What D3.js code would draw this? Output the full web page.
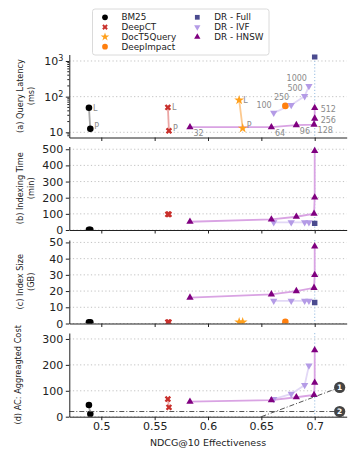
<!DOCTYPE html>
<html>
<head>
<meta charset="utf-8">
<script src="https://cdn.jsdelivr.net/npm/d3@7"></script>
<style>
  body { margin: 0; background: #fff; }
  svg { display: block; font-family: "DejaVu Sans", sans-serif; }
  .axis path, .axis line { stroke: #222; stroke-width: 1; }
  .axis text { font-size: 11px; fill: #222; font-family: "DejaVu Sans", sans-serif; }
  .grid line { stroke: #bbb; stroke-width: 0.9; stroke-dasharray: 1.2, 2.4; }
  .tag { font-size: 8px; fill: #8a8a8a; }
  .ylabel { font-size: 8.2px; fill: #222; }
  .legend text { font-size: 8.8px; fill: #222; }
</style>
</head>
<body>
<div id="chart"></div>
<script>
// Data
var ndcgTicks = [0.5, 0.55, 0.6, 0.65, 0.7];
var latencyTicks = [10, 100, 1000];
var timeTicks = [0, 100, 200, 300, 400, 500];
var sizeTicks = [0, 10, 20, 30, 40, 50];
var costTicks = [0, 100, 200, 300];

var lpTags = ["L", "P"];

var bm25Ndcg = [0.4884, 0.4897];
var bm25Latency = [49, 12.5];
var bm25Time = [2, 2];
var bm25Size = [0.7, 0.7];
var bm25Cost = [45, 10];

var deepctNdcg = [0.5624, 0.5634];
var deepctLatency = [50, 11];
var deepctTime = [97, 97];
var deepctSize = [0.8, 0.8];
var deepctCost = [68, 36];

var doct5Ndcg = [0.6292, 0.6325];
var doct5Latency = [80, 13];
var doct5Size = [0.8, 0.8];

var deepimpactNdcg = [0.6725];
var deepimpactLatency = [55];
var deepimpactSize = [1];

var fullNdcg = [0.7];
var fullLatency = [1320];
var fullTime = [41];
var fullSize = [13];

var ivfProbes = [100, 250, 500, 1000];
var ivfNdcg = [0.6616, 0.678, 0.6906, 0.6946];
var ivfLatency = [35, 58, 103, 198];
var ivfTime = [47, 47, 47, 47];
var ivfSize = [14, 14, 14, 14];
var ivfCost = [68, 88, 122, 197];

var hnswEf = [32, 64, 96, 128, 256, 512];
var hnswNdcg = [0.5831, 0.6594, 0.6828, 0.6994, 0.7, 0.7];
var hnswLatency = [14, 14, 16, 16.5, 24.3, 48];
var hnswTime = [51, 66, 82, 101, 202, 490];
var hnswSize = [16, 18, 20, 22, 30, 47.5];
var hnswCost = [58, 64, 75, 84, 131, 257];

// budget lines in panel (d)
var budgetLine1 = [[0.65, 0], [0.7234, 113]];
var budgetLine2 = 20;

var series = [
  { name: "BM25", x: bm25Ndcg, latency: bm25Latency, time: bm25Time, size: bm25Size, cost: bm25Cost,
    tags: lpTags, color: "#000", line: "#a8a8a8", shape: "circle" },
  { name: "DeepCT", x: deepctNdcg, latency: deepctLatency, time: deepctTime, size: deepctSize, cost: deepctCost,
    tags: lpTags, color: "#c9302c", line: "#eba5a3", shape: "x" },
  { name: "DocT5Query", x: doct5Ndcg, latency: doct5Latency, size: doct5Size,
    tags: lpTags, color: "#ffa01c", line: "#fcc98f", shape: "star" },
  { name: "DeepImpact", x: deepimpactNdcg, latency: deepimpactLatency, size: deepimpactSize,
    color: "#ff7f0e", shape: "circle" },
  { name: "DR - Full", x: fullNdcg, latency: fullLatency, time: fullTime, size: fullSize,
    color: "#4b4b8f", shape: "square" },
  { name: "DR - IVF", x: ivfNdcg, latency: ivfLatency, time: ivfTime, size: ivfSize, cost: ivfCost,
    nums: ivfProbes, color: "#b49be6", line: "#e2d8f6", shape: "down" },
  { name: "DR - HNSW", x: hnswNdcg, latency: hnswLatency, time: hnswTime, size: hnswSize, cost: hnswCost,
    nums: hnswEf, color: "#800080", line: "#d9a3e3", shape: "up" }
];

var width = 359, height = 462;
var xScale = d3.scaleLinear().domain([0.47, 0.73]).range([69.3, 346.7]);

var panels = [
  { key: "latency", top: 54.5, bottom: 137.5, ticks: latencyTicks, log: true, domain: [7.15, 1520],
    label: ["(a) Query Latency", "(ms)"] },
  { key: "time", top: 146.5, bottom: 230, ticks: timeTicks, domain: [0, 517],
    label: ["(b) Indexing Time", "(min)"] },
  { key: "size", top: 240, bottom: 323.5, ticks: sizeTicks, domain: [0, 51.5],
    label: ["(c) Index Size", "(GB)"] },
  { key: "cost", top: 333, bottom: 416.7, ticks: costTicks, domain: [0, 323],
    label: ["(d) AC: Aggreagted Cost"] }
];

var symbolFor = function(shape, k) {
  k = k || 1;
  var types = {
    circle: [d3.symbolCircle, 34, 0],
    x: [d3.symbolCross, 26, 45],
    star: [d3.symbolStar, 30, 0],
    square: [d3.symbolSquare, 30, 0],
    up: [d3.symbolTriangle, 23, 0],
    down: [d3.symbolTriangle, 23, 180]
  };
  var t = types[shape];
  return { path: d3.symbol().type(t[0]).size(t[1] * k)(), rot: t[2] };
};

var svg = d3.select("#chart").append("svg")
  .attr("width", width)
  .attr("height", height);

var defs = svg.append("defs");

panels.forEach(function(p, pi) {
  var yScale = (p.log ? d3.scaleLog() : d3.scaleLinear())
    .domain(p.domain)
    .range([p.bottom, p.top]);

  var clipId = "clip-" + p.key;
  defs.append("clipPath").attr("id", clipId)
    .append("rect")
    .attr("x", xScale.range()[0])
    .attr("y", p.top)
    .attr("width", xScale.range()[1] - xScale.range()[0])
    .attr("height", p.bottom - p.top);

  var g = svg.append("g").attr("class", "panel panel-" + p.key);

  // grid
  g.append("g").attr("class", "grid")
    .selectAll("line")
    .data(p.ticks)
    .enter().append("line")
    .attr("x1", xScale.range()[0])
    .attr("x2", xScale.range()[1])
    .attr("y1", d => yScale(d))
    .attr("y2", d => yScale(d));

  var plot = g.append("g").attr("clip-path", "url(#" + clipId + ")");

  // DR - Full marker line
  plot.append("line")
    .attr("x1", xScale(fullNdcg[0]))
    .attr("x2", xScale(fullNdcg[0]))
    .attr("y1", p.top)
    .attr("y2", p.bottom)
    .attr("stroke", "#a9c8e6")
    .attr("stroke-width", 1.2)
    .attr("stroke-dasharray", "1.2,2");

  // budget lines
  if (p.key == "cost") {
    var bl = g.append("g").attr("class", "budget");
    bl.append("line")
      .attr("x1", xScale(budgetLine1[0][0]))
      .attr("y1", yScale(budgetLine1[0][1]))
      .attr("x2", xScale(budgetLine1[1][0]))
      .attr("y2", yScale(budgetLine1[1][1]))
      .attr("stroke", "#555").attr("stroke-width", 1)
      .attr("stroke-dasharray", "5,2,1,2");
    bl.append("line")
      .attr("x1", xScale.range()[0])
      .attr("y1", yScale(budgetLine2))
      .attr("x2", xScale(budgetLine1[1][0]))
      .attr("y2", yScale(budgetLine2))
      .attr("stroke", "#555").attr("stroke-width", 1)
      .attr("stroke-dasharray", "5,2,1,2");
    var badges = [
      { n: "1", x: budgetLine1[1][0], y: budgetLine1[1][1] },
      { n: "2", x: budgetLine1[1][0], y: budgetLine2 }
    ];
    badges.forEach(function(b) {
      bl.append("circle")
        .attr("cx", xScale(b.x)).attr("cy", yScale(b.y))
        .attr("r", 5.6).attr("fill", "#444");
      bl.append("text")
        .attr("x", xScale(b.x)).attr("y", yScale(b.y))
        .attr("dy", "0.36em")
        .attr("text-anchor", "middle")
        .attr("font-size", "7.5px")
        .attr("font-weight", "bold")
        .attr("fill", "#fff")
        .text(b.n);
    });
  }

  // series lines
  series.forEach(function(s) {
    var vals = s[p.key];
    if (!vals || !s.line || vals.length < 2) return;
    var pts = vals.map((v, i) => [s.x[i], v]);
    plot.append("path")
      .datum(pts)
      .attr("fill", "none")
      .attr("stroke", s.line)
      .attr("stroke-width", 1.8)
      .attr("d", d3.line().x(d => xScale(d[0])).y(d => yScale(d[1])));
  });

  // series markers
  series.forEach(function(s) {
    var vals = s[p.key];
    if (!vals) return;
    var sym = symbolFor(s.shape);
    plot.append("g")
      .selectAll("path")
      .data(vals.map((v, i) => [s.x[i], v]))
      .enter().append("path")
      .attr("d", sym.path)
      .attr("fill", s.color)
      .attr("transform", d => "translate(" + xScale(d[0]) + "," + yScale(d[1]) + ") rotate(" + sym.rot + ")");
  });

  // point annotations (latency panel only)
  if (p.key == "latency") {
    series.forEach(function(s) {
      if (s.tags) {
        s.tags.forEach(function(t, i) {
          g.append("text").attr("class", "tag")
            .attr("x", xScale(s.x[i]) + 4)
            .attr("y", yScale(s.latency[i]) + (i == 0 ? 3 : 0))
            .text(t);
        });
      }
      if (s.nums && s.shape == "down") {
        s.nums.forEach(function(n, i) {
          g.append("text").attr("class", "tag")
            .attr("x", xScale(s.x[i]) - 2)
            .attr("y", yScale(s.latency[i]) - 5)
            .attr("text-anchor", "end")
            .text(n);
        });
      }
      if (s.nums && s.shape == "up") {
        s.nums.forEach(function(n, i) {
          var below = i < 4;
          g.append("text").attr("class", "tag")
            .attr("x", xScale(s.x[i]) + (below ? 3.5 : 6))
            .attr("y", yScale(s.latency[i]) + (below ? 8.5 : 4))
            .text(n);
        });
      }
    });
  }

  // axes
  var yAxis = d3.axisLeft(yScale)
    .tickValues(p.ticks)
    .tickSize(3.5)
    .tickSizeOuter(0)
    .tickPadding(2.5);

  var yG = g.append("g").attr("class", "y axis")
    .attr("transform", "translate(" + xScale.range()[0] + ",0)")
    .call(yAxis);

  if (p.log) {
    yG.selectAll(".tick text").each(function(d) {
      var t = d3.select(this);
      var e = Math.round(Math.log10(d));
      t.text("");
      t.append("tspan").text("10");
      if (e > 1) {
        t.append("tspan").attr("dy", "-0.45em").attr("font-size", "8px").text(e);
      }
    });
    // minor ticks
    var minors = [];
    [1, 10, 100, 1000].forEach(function(base) {
      for (var m = 2; m <= 9; m++) {
        var v = base * m;
        if (v > p.domain[0] && v < p.domain[1]) minors.push(v);
      }
    });
    yG.selectAll(".minor")
      .data(minors)
      .enter().append("line")
      .attr("class", "minor")
      .attr("x1", 0).attr("x2", -2)
      .attr("y1", d => yScale(d)).attr("y2", d => yScale(d));
  }

  var xAxis = d3.axisBottom(xScale)
    .tickValues(ndcgTicks)
    .tickSize(3.5)
    .tickSizeOuter(0)
    .tickPadding(2.5)
    .tickFormat(d => p.key == "cost" ? String(d) : "");

  g.append("g").attr("class", "x axis")
    .attr("transform", "translate(0," + p.bottom + ")")
    .call(xAxis);

  // y label
  var cy = (p.top + p.bottom) / 2;
  var lx = [20.5, 31.3];
  p.label.forEach(function(line, li) {
    svg.append("text").attr("class", "ylabel")
      .attr("transform", "translate(" + (p.label.length == 1 ? 18.5 : lx[li]) + "," + cy + ") rotate(-90)")
      .attr("text-anchor", "middle")
      .attr("dy", "0.35em")
      .text(line);
  });
});

// x label
svg.append("text")
  .attr("x", 208)
  .attr("y", 446)
  .attr("text-anchor", "middle")
  .attr("font-size", "9.5px")
  .attr("fill", "#222")
  .text("NDCG@10 Effectiveness");

// legend
var legend = svg.append("g").attr("class", "legend");
legend.append("rect")
  .attr("x", 92.5).attr("y", 9)
  .attr("width", 176.5).attr("height", 46)
  .attr("rx", 2.5)
  .attr("fill", "#fff")
  .attr("stroke", "#d0d0d0")
  .attr("stroke-width", 0.8);

var legendCols = [[105, 121.5], [197.3, 214.3]];
series.forEach(function(s, i) {
  var col = i < 4 ? 0 : 1;
  var row = i < 4 ? i : i - 4;
  var y = 17.3 + row * 9.8;
  var sym = symbolFor(s.shape, 0.75);
  legend.append("path")
    .attr("d", sym.path)
    .attr("fill", s.color)
    .attr("transform", "translate(" + legendCols[col][0] + "," + y + ") rotate(" + sym.rot + ")");
  legend.append("text")
    .attr("x", legendCols[col][1])
    .attr("y", y)
    .attr("dy", "0.35em")
    .text(s.name);
});
</script>
</body>
</html>
